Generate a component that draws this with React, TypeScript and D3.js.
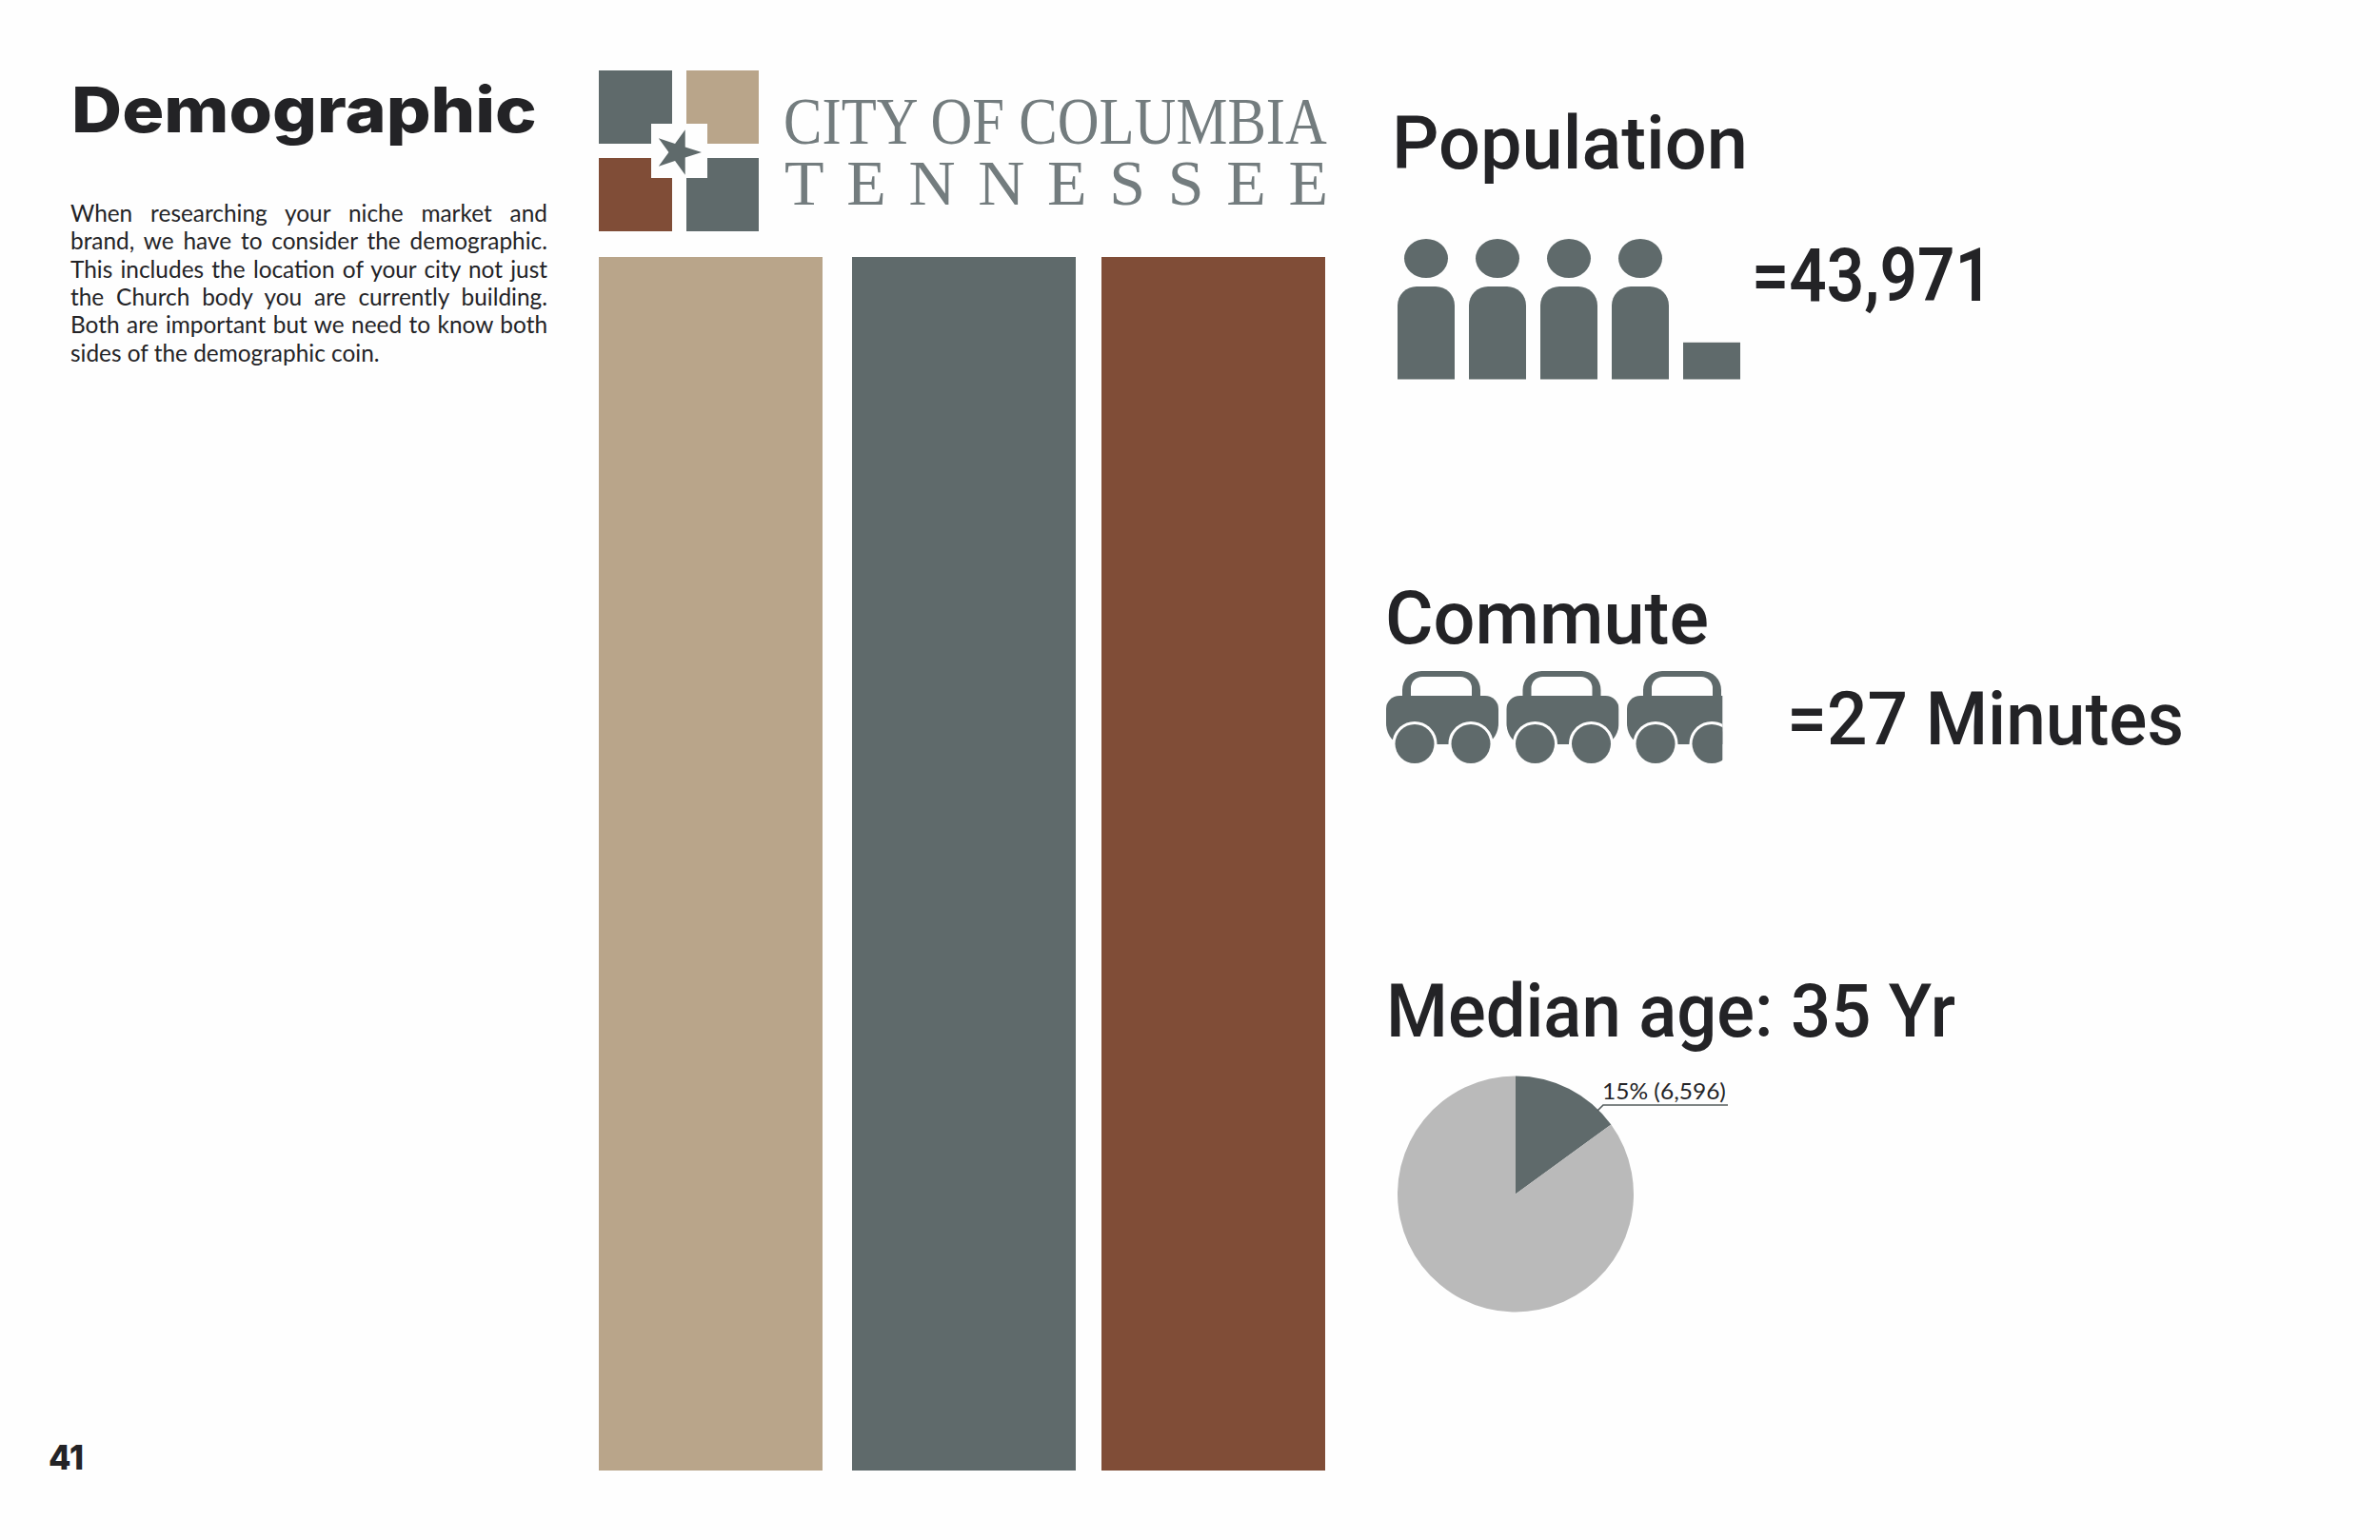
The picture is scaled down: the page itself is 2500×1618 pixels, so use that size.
import { useEffect, useRef } from "react";
import * as d3 from "d3";

const bodyLines = [
  "When researching your niche market and",
  "brand, we have to consider the demographic.",
  "This includes the location of your city not just",
  "the Church body you are currently building.",
  "Both are important but we need to know both",
  "sides of the demographic coin.",
];

const barNames = ["tan", "slate", "brown"];
const barValues = [100, 100, 100];
const barStarts = [629, 895, 1157];
const barColors = ["#b9a58a", "#5f6a6b", "#804d37"];

const population = 43971;
const personUnit = 10000;
const carFill = [1, 1, 0.85];
const pieValues = [6596, 37375];
const pieColors = ["#5f6a6b", "#bababa"];

const SLATE = "#5f6a6b";
const INK = "#232326";
const PAPER = "#fefefe";

export default function App() {
  const svgRef = useRef<SVGSVGElement>(null);

  useEffect(() => {
    if (!svgRef.current) return;
    const svg = d3.select(svgRef.current);
    svg.selectAll("*").remove();

    svg.append("rect").attr("width", 2500).attr("height", 1618).attr("fill", PAPER);

    // squeeze a label sideways to the width it has in the reference
    const label = (
      text: string,
      x: number,
      y: number,
      width: number,
      size: number,
      family: string,
      weight: number,
      fill = INK
    ) => {
      const t = svg
        .append("text")
        .attr("font-family", family)
        .attr("font-size", size)
        .attr("font-weight", weight)
        .attr("fill", fill)
        .text(text);
      const natural = (t.node() as SVGTextElement).getComputedTextLength();
      t.attr("transform", `translate(${x},${y}) scale(${width / natural},1)`);
      return t;
    };

    label("Demographic", 75, 139, 489, 66, "Inter", 800);
    label("41", 51, 1544, 37, 36, "Inter", 800);

    // justified paragraph
    const left = 74;
    const right = 575;
    bodyLines.forEach((line, i) => {
      const t = svg
        .append("text")
        .attr("x", left)
        .attr("y", 233 + i * 29.3)
        .attr("font-family", "Lato")
        .attr("font-size", 24.4)
        .attr("fill", INK)
        .text(line);
      if (i < bodyLines.length - 1) {
        const gaps = line.split(" ").length - 1;
        const w = (t.node() as SVGTextElement).getComputedTextLength();
        t.attr("word-spacing", (right - left - w) / gaps);
      }
    });

    // logo
    const logo = svg.append("g");
    const squares = [
      { x: 629, y: 74, w: 77, h: 77, c: barColors[1] },
      { x: 721, y: 74, w: 76, h: 77, c: barColors[0] },
      { x: 629, y: 166, w: 77, h: 77, c: barColors[2] },
      { x: 721, y: 166, w: 76, h: 77, c: barColors[1] },
    ];
    logo
      .selectAll("rect.sq")
      .data(squares)
      .enter()
      .append("rect")
      .attr("x", d => d.x)
      .attr("y", d => d.y)
      .attr("width", d => d.w)
      .attr("height", d => d.h)
      .attr("fill", d => d.c);
    logo
      .append("rect")
      .attr("x", 684)
      .attr("y", 130)
      .attr("width", 59)
      .attr("height", 57)
      .attr("fill", PAPER);
    logo
      .append("path")
      .attr("d", d3.symbol(d3.symbolStar, 700)() as string)
      .attr("transform", "translate(712,160) rotate(90)")
      .attr("fill", SLATE);
    label("CITY OF COLUMBIA", 823, 151, 571, 69, "Liberation Serif", 400, "#737c7e");
    const tn = svg
      .append("text")
      .attr("x", 824)
      .attr("y", 215)
      .attr("font-family", "Liberation Serif")
      .attr("font-size", 68)
      .attr("fill", "#737c7e")
      .text("TENNESSEE");
    const tnWidth = (tn.node() as SVGTextElement).getComputedTextLength();
    tn.attr("letter-spacing", (571 - tnWidth) / 8);

    // colour bars
    const barX = d3.scaleOrdinal<string, number>().domain(barNames).range(barStarts);
    const barY = d3.scaleLinear().domain([0, 100]).range([1545, 270]);
    svg
      .selectAll("rect.bar")
      .data(barNames)
      .enter()
      .append("rect")
      .attr("class", "bar")
      .attr("x", d => barX(d))
      .attr("y", (_, i) => barY(barValues[i]))
      .attr("width", 235)
      .attr("height", (_, i) => barY(0) - barY(barValues[i]))
      .attr("fill", (_, i) => barColors[i]);

    // population
    label("Population", 1462, 177, 374, 77, "Roboto", 500);
    label("=43,971", 1840, 316, 253, 78, "Roboto", 600);
    const people = d3.range(Math.ceil(population / personUnit));
    const personX = d3.scaleLinear().domain([0, 4]).range([1468, 1768]);
    const fullBody = d3.scaleLinear().domain([0, personUnit]).range([398.5, 301]);
    const wholePeople = Math.floor(population / personUnit);
    people.slice(0, wholePeople).forEach(i => {
      const x = personX(i);
      svg
        .append("ellipse")
        .attr("cx", x + 30)
        .attr("cy", 271.5)
        .attr("rx", 23)
        .attr("ry", 20.5)
        .attr("fill", SLATE);
      svg
        .append("path")
        .attr(
          "d",
          `M${x},398.5V321a20,20 0 0 1 20,-20H${x + 40}a20,20 0 0 1 20,20V398.5Z`
        )
        .attr("fill", SLATE);
    });
    svg
      .append("rect")
      .attr("x", personX(wholePeople))
      .attr("y", fullBody(population % personUnit))
      .attr("width", 60)
      .attr("height", 398.5 - fullBody(population % personUnit))
      .attr("fill", SLATE);

    // commute
    label("Commute", 1455, 676, 340, 77, "Roboto", 500);
    label("=27 Minutes", 1877, 782, 417, 78, "Roboto", 500);
    const carX = d3.scaleLinear().domain([0, 2]).range([1456, 1709]);
    const defs = svg.append("defs");
    carFill.forEach((f, i) => {
      const x = carX(i);
      defs
        .append("clipPath")
        .attr("id", `car-clip-${i}`)
        .append("rect")
        .attr("x", x - 2)
        .attr("y", 700)
        .attr("width", 118 * f + 2)
        .attr("height", 110);
      const g = svg.append("g").attr("clip-path", `url(#car-clip-${i})`);
      g.append("path")
        .attr(
          "d",
          `M${x + 17},731V725a20,20 0 0 1 20,-20H${x + 79}a20,20 0 0 1 20,20V731Z` +
            `M${x + 26},731V723a12,12 0 0 1 12,-12H${x + 78}a12,12 0 0 1 12,12V731Z`
        )
        .attr("fill-rule", "evenodd")
        .attr("fill", SLATE);
      g.append("path")
        .attr(
          "d",
          `M${x + 14},731H${x + 104}a14,14 0 0 1 14,14V760c0,12 -8,22 -18,22H${x + 18}c-10,0 -18,-10 -18,-22V745a14,14 0 0 1 14,-14Z`
        )
        .attr("fill", SLATE);
      [30, 89].forEach(dx => {
        g.append("circle")
          .attr("cx", x + dx)
          .attr("cy", 781.5)
          .attr("r", 20.5)
          .attr("fill", SLATE)
          .attr("stroke", PAPER)
          .attr("stroke-width", 6)
          .attr("paint-order", "stroke");
      });
    });

    // median age pie
    label("Median age: 35 Yr", 1456, 1089, 598, 77, "Roboto", 500);
    const pie = d3.pie<number>().sort(null)(pieValues);
    const arc = d3.arc<d3.PieArcDatum<number>>().innerRadius(0).outerRadius(124);
    svg
      .append("g")
      .attr("transform", "translate(1592,1254.5)")
      .selectAll("path")
      .data(pie)
      .enter()
      .append("path")
      .attr("d", arc)
      .attr("fill", (_, i) => pieColors[i]);
    svg
      .append("path")
      .attr("d", "M1678,1167L1684,1161H1815")
      .attr("fill", "none")
      .attr("stroke", "#555d5e")
      .attr("stroke-width", 1.6);
    label("15% (6,596)", 1683, 1155, 130, 24, "Lato", 400);
  }, []);

  return (
    <svg
      ref={svgRef}
      width={2500}
      height={1618}
      style={{ position: "absolute", left: 0, top: 0 }}
    />
  );
}
